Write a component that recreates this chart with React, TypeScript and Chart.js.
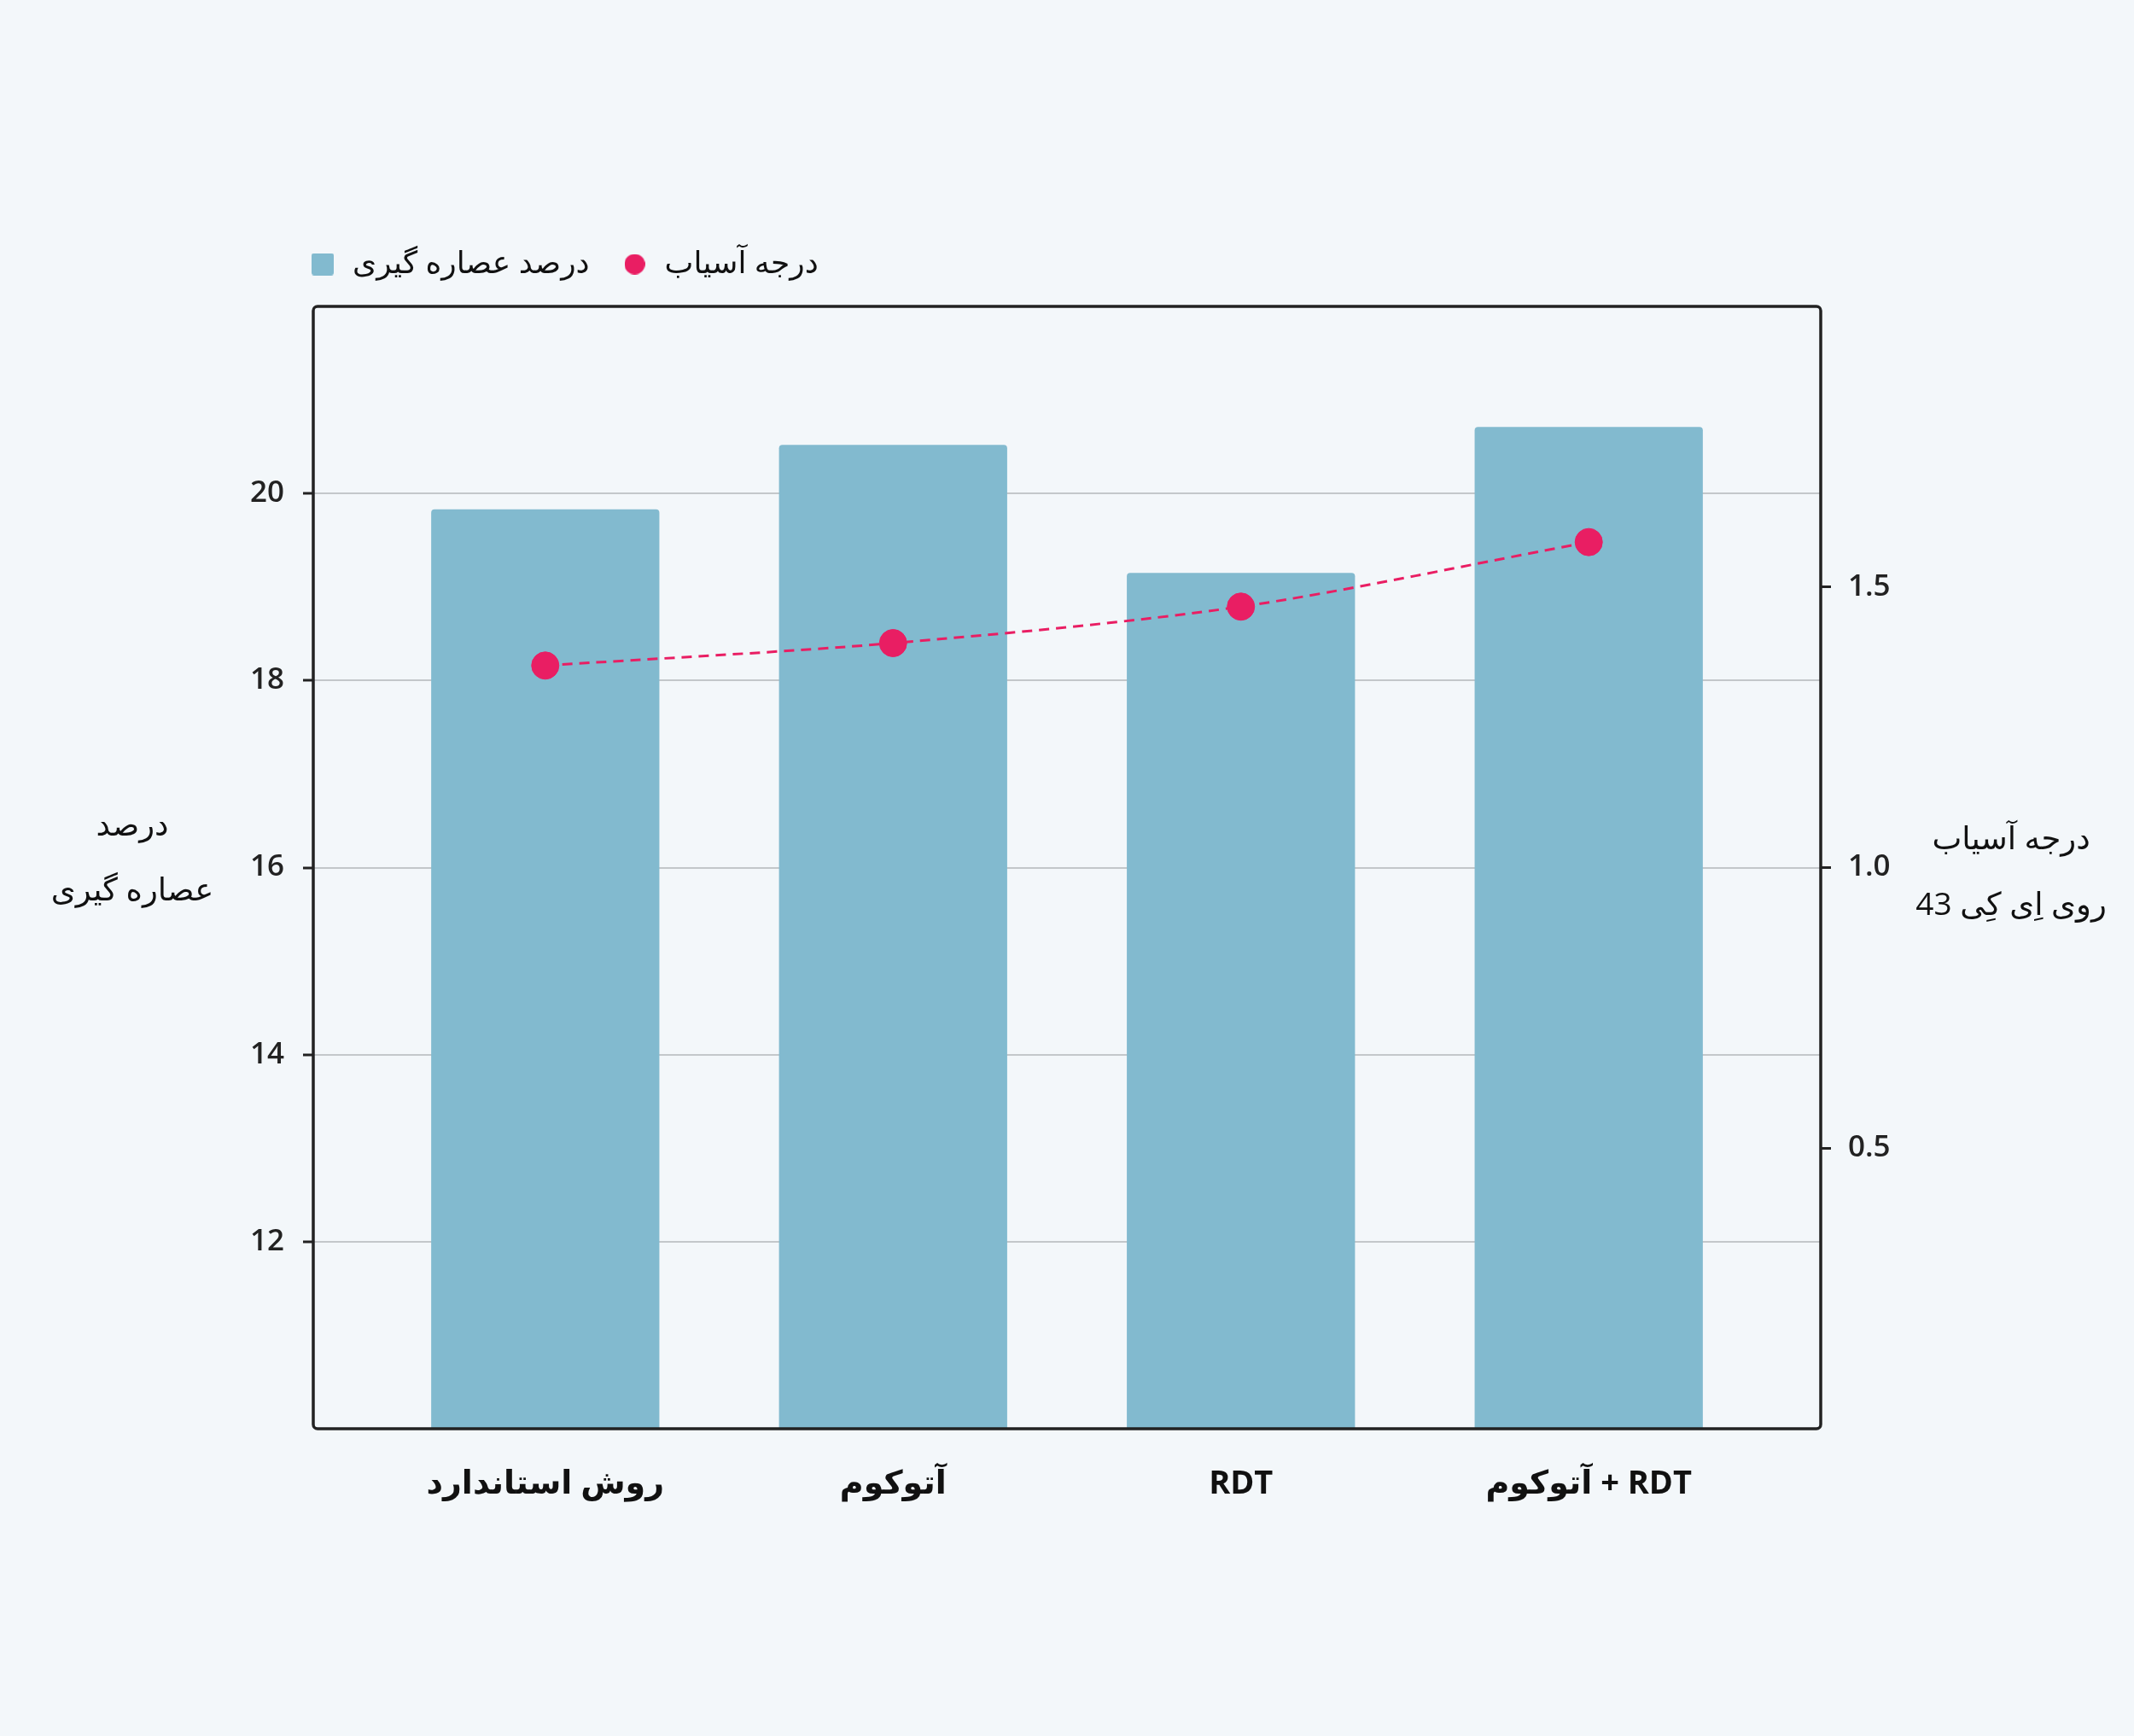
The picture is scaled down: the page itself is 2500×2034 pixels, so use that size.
import { useEffect, useRef } from "react";
import { Chart, registerables } from "chart.js";
Chart.register(...registerables);

// categories and series
const CATEGORIES = ["روش استاندارد", "آتوکوم", "RDT", "RDT + آتوکوم"];
const EXTRACTION = [19.83, 20.52, 19.15, 20.71];
const GRIND = [1.36, 1.4, 1.465, 1.58];

const EXTRACTION_LABEL = "درصد عصاره گیری";
const GRIND_LABEL = "درجه آسیاب";
const LEFT_TITLE = ["درصد", "عصاره گیری"];
const RIGHT_TITLE = ["درجه آسیاب", "روی اِی کِی 43"];

const BG = "#f3f7fa";
const BAR = "#82bacf";
const PINK = "#e91e63";
const INK = "#111";
const AXIS = "#222";
const GRID = "#c3c7ca";
const FONT = "'Open Sans', 'DejaVu Sans', sans-serif";

function marker(kind: "rect" | "circle", color: string) {
  const c = document.createElement("canvas");
  const s = kind === "rect" ? 26 : 24;
  c.width = s;
  c.height = s;
  const g = c.getContext("2d")!;
  g.fillStyle = color;
  g.beginPath();
  if (kind === "rect") g.roundRect(0, 0, s, s, 3);
  else g.arc(s / 2, s / 2, s / 2, 0, Math.PI * 2);
  g.fill();
  return c;
}

const framePlugin = {
  id: "frame",
  afterLayout(chart: any) {
    const lg = chart.legend;
    const a = chart.chartArea;
    if (lg) {
      lg.left = a.left - 42;
      lg.top = a.top - 103.5;
    }
  },
  afterDraw(chart: any) {
    const { ctx, chartArea: a } = chart;
    ctx.save();
    ctx.strokeStyle = AXIS;
    ctx.lineWidth = 3.5;
    ctx.beginPath();
    ctx.roundRect(a.left, a.top, a.right - a.left, a.bottom - a.top, 5);
    ctx.stroke();

    const mid = (a.top + a.bottom) / 2;
    ctx.fillStyle = INK;
    ctx.font = `37px ${FONT}`;
    ctx.textAlign = "center";
    ctx.textBaseline = "middle";
    ctx.direction = "rtl";
    ctx.fillText(LEFT_TITLE[0], a.left - 212, mid - 48);
    ctx.fillText(LEFT_TITLE[1], a.left - 212, mid + 28);
    ctx.fillText(RIGHT_TITLE[0], a.right + 223, mid - 32);
    ctx.fillText(RIGHT_TITLE[1], a.right + 223, mid + 45);
    ctx.restore();
  },
};

export default function App() {
  const ref = useRef<HTMLCanvasElement>(null);
  const inst = useRef<Chart | null>(null);

  useEffect(() => {
    if (!ref.current) return;
    const markers = [marker("circle", PINK), marker("rect", BAR)];
    const tickFont = { family: FONT, size: 35, weight: "600" as const };

    inst.current = new Chart(ref.current, {
      type: "bar",
      data: {
        datasets: [
          {
            type: "line",
            label: GRIND_LABEL,
            data: GRIND.map((y, x) => ({ x, y })),
            yAxisID: "y1",
            borderColor: PINK,
            backgroundColor: PINK,
            borderWidth: 3,
            borderDash: [12, 8],
            tension: 0.3,
            fill: false,
            pointRadius: 16,
            pointBackgroundColor: PINK,
            pointBorderColor: PINK,
            pointBorderWidth: 1,
          } as any,
          {
            type: "bar",
            label: EXTRACTION_LABEL,
            data: EXTRACTION.map((y, x) => ({ x, y })),
            yAxisID: "y",
            backgroundColor: BAR,
            borderRadius: 4,
            barPercentage: 0.656,
            categoryPercentage: 1,
          } as any,
        ],
      },
      options: {
        animation: false,
        responsive: true,
        maintainAspectRatio: false,
        layout: { padding: { top: 277, left: 0, right: 0, bottom: 0 } },
        plugins: {
          tooltip: { enabled: false },
          legend: {
            position: "top",
            align: "start",
            labels: {
              usePointStyle: true,
              boxWidth: 34,
              boxHeight: 26,
              padding: 36,
              color: INK,
              font: { family: FONT, size: 36 },
              sort: (a: any, b: any) => b.datasetIndex - a.datasetIndex,
              generateLabels: (chart: any) =>
                (Chart.defaults.plugins.legend.labels as any)
                  .generateLabels(chart)
                  .map((it: any) => ({ ...it, pointStyle: markers[it.datasetIndex] })),
            },
          },
        },
        scales: {
          x: {
            type: "linear",
            min: -0.667,
            max: 3.667,
            offset: false,
            grid: { display: false, drawTicks: false },
            border: { display: false },
            afterBuildTicks: (s: any) => {
              s.ticks = CATEGORIES.map((_, i) => ({ value: i }));
            },
            afterFit: (s: any) => {
              s.height = 360;
            },
            ticks: {
              padding: 42,
              autoSkip: false,
              maxRotation: 0,
              color: INK,
              font: { family: FONT, size: 38, weight: "bold" },
              callback: (v: any) => CATEGORIES[v] ?? "",
            },
          },
          y: {
            position: "left",
            min: 10,
            max: 22,
            afterBuildTicks: (s: any) => {
              s.ticks = s.ticks.filter((t: any) => t.value > 10 && t.value < 22);
            },
            afterFit: (s: any) => {
              s.width = 367;
            },
            grid: { color: GRID, lineWidth: 2, tickColor: AXIS, tickWidth: 3, tickLength: 12 },
            border: { display: false },
            ticks: { stepSize: 2, padding: 22, color: AXIS, font: tickFont },
          },
          y1: {
            position: "right",
            min: 0,
            max: 2,
            afterBuildTicks: (s: any) => {
              s.ticks = s.ticks.filter((t: any) => t.value > 0 && t.value < 2);
            },
            afterFit: (s: any) => {
              s.width = 367;
            },
            grid: { drawOnChartArea: false, tickColor: AXIS, tickWidth: 3, tickLength: 12 },
            border: { display: false },
            ticks: {
              stepSize: 0.5,
              padding: 20,
              color: AXIS,
              font: tickFont,
              callback: (v: any) => Number(v).toFixed(1),
            },
          },
        },
      } as any,
      plugins: [framePlugin],
    });
    return () => inst.current?.destroy();
  }, []);

  return (
    <div style={{ position: "fixed", left: 0, top: 0, width: 2500, height: 2034, background: BG }}>
      <canvas ref={ref} style={{ direction: "rtl" }} />
    </div>
  );
}
